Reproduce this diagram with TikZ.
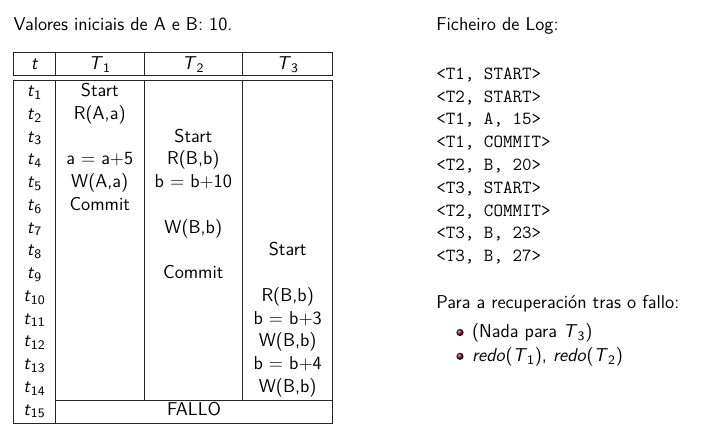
\documentclass[tikz,border=0pt]{standalone}
\usepackage{amsmath}
\usetikzlibrary{positioning}
\renewcommand{\familydefault}{\sfdefault}
\definecolor{bulletred}{RGB}{95,12,22}
\newcommand{\tv}[2]{\textit{#1}\ensuremath{_{\text{#2}}}}

\begin{document}
\begin{tikzpicture}[
  x=0.6pt, y=-0.6pt,
  every node/.style={inner sep=0pt, anchor=base, font=\fontsize{11.15}{13.6}\selectfont},
  txt/.style={anchor=base west},
  logline/.style={anchor=base west, font=\ttfamily\fontsize{11.1}{13.6}\selectfont},
  rule/.style={line width=0.5pt, black!85}
]
\useasboundingbox (0,0) rectangle (711,441);

\node[txt] (init) at (13.3,31) {Valores iniciais de A e B: 10.};

% table
\draw[rule] (13.5,52.3) rectangle (332.7,75.7);
\draw[rule] (55.5,52.3) -- (55.5,75.7) (144,52.3) -- (144,75.7) (242.7,52.3) -- (242.7,75.7);
\draw[rule] (13.5,80.7) rectangle (332.7,423);
\draw[rule] (55.5,80.7) -- (55.5,423);
\draw[rule] (144,80.7) -- (144,400.7) (242.7,80.7) -- (242.7,400.7);
\draw[rule] (55.5,400.7) -- (332.7,400.7);

\coordinate (c0) at (34.5,0);
\coordinate (c1) at (99.75,0);
\coordinate (c2) at (193.3,0);
\coordinate (c3) at (287.7,0);

\node (ht) at (34.5,69.5) {\textit{t}};
\node (h1) at (c1 |- ht.base) {\tv{T}{1}};
\node (h2) at (c2 |- ht.base) {\tv{T}{2}};
\node (h3) at (c3 |- ht.base) {\tv{T}{3}};

\foreach \i in {1,...,15}
  \node (t\i) at (34.5,{96.7+(\i-1)*22.75}) {\tv{t}{\i}};

\node (a1) at (c1 |- t1.base) {Start};
\node (a2) at (c1 |- t2.base) {R(A,a)};
\node (a4) at (c1 |- t4.base) {a = a+5};
\node (a5) at (c1 |- t5.base) {W(A,a)};
\node (a6) at (c1 |- t6.base) {Commit};

\node (b3) at (c2 |- t3.base) {Start};
\node (b4) at (c2 |- t4.base) {R(B,b)};
\node (b5) at (c2 |- t5.base) {b = b+10};
\node (b7) at (c2 |- t7.base) {W(B,b)};
\node (b9) at (c2 |- t9.base) {Commit};

\node (d8) at (c3 |- t8.base) {Start};
\node (d10) at (c3 |- t10.base) {R(B,b)};
\node (d11) at (c3 |- t11.base) {b = b+3};
\node (d12) at (c3 |- t12.base) {W(B,b)};
\node (d13) at (c3 |- t13.base) {b = b+4};
\node (d14) at (c3 |- t14.base) {W(B,b)};

\node (fallo) at (194.1,415.2) {FALLO};

% log
\node[txt] (logtitle) at (436,30.7) {Ficheiro de Log:};
\foreach \s [count=\i] in {{<T1, START>},{<T2, START>},{<T1, A, 15>},{<T1, COMMIT>},
    {<T2, B, 20>},{<T3, START>},{<T2, COMMIT>},{<T3, B, 23>},{<T3, B, 27>}}
  \node[logline] (log\i) at (436,{79.3+(\i-1)*22.8}) {\s};

\node[txt] (recov) at (436,308.3) {Para a recuperación tras o fallo:};
\shade[ball color=bulletred] (460,332.5) circle[radius=3.6];
\shade[ball color=bulletred] (460,356.3) circle[radius=3.6];
\node[txt] (item1) at (471.7,337.7) {(Nada para \tv{T}{3})};
\node[txt] (item2) at (471.7,361.7) {\textit{redo}(\tv{T}{1}), \textit{redo}(\tv{T}{2})};

\end{tikzpicture}
\end{document}
